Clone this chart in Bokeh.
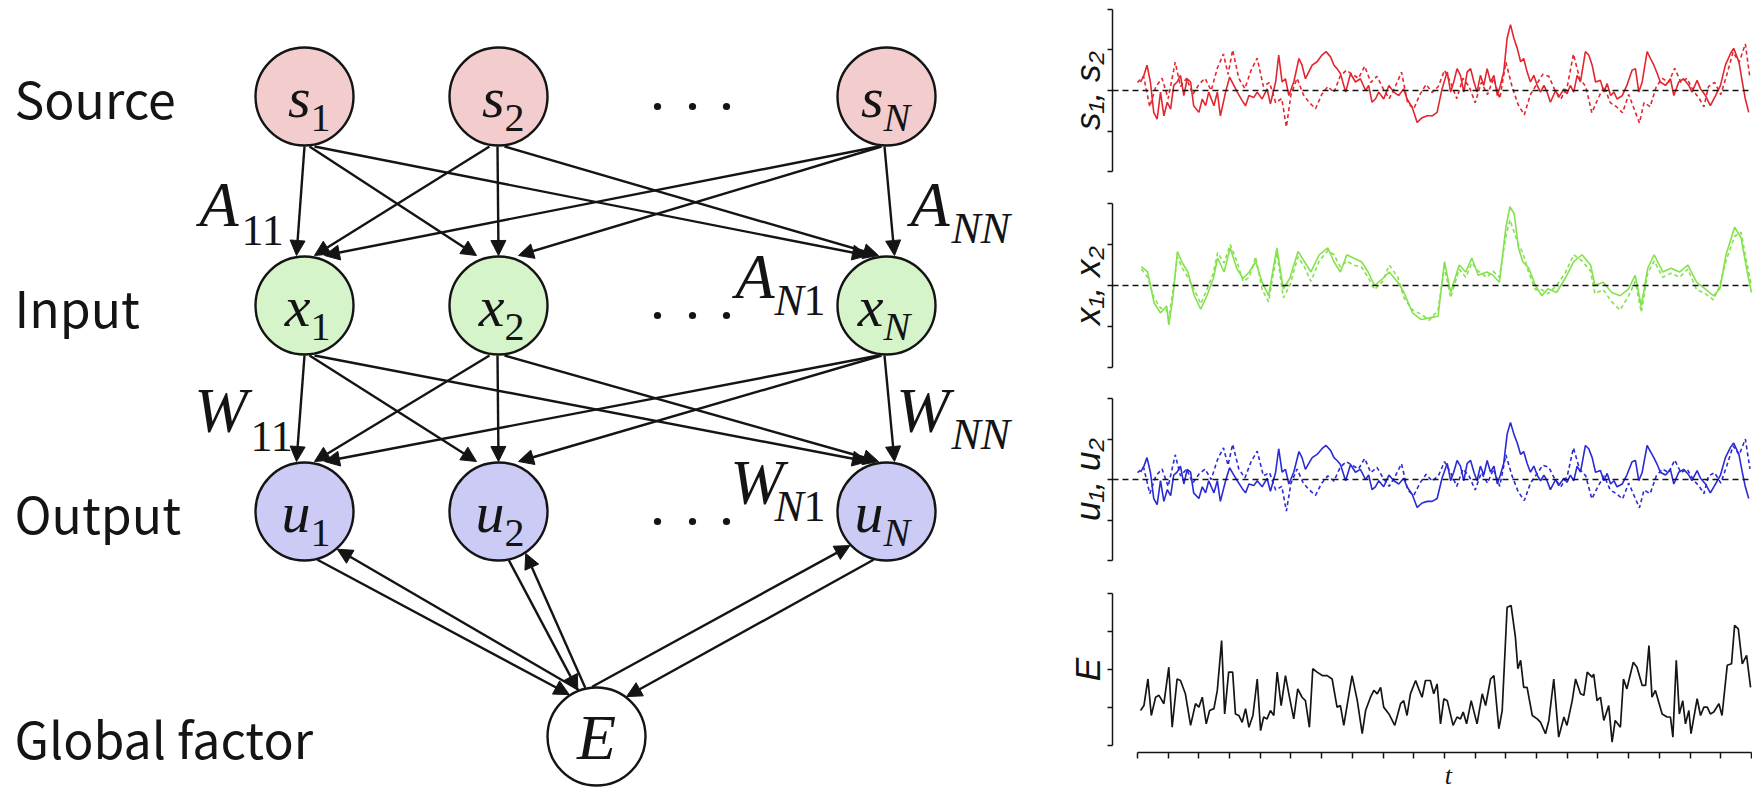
import math
from bokeh.plotting import figure
from bokeh.models import Range1d, Arrow, NormalHead, ColumnDataSource, Span, FixedTicker
from bokeh.layouts import row, column
from bokeh.core.properties import value
from bokeh.embed import file_html
from bokeh.resources import INLINE

# ---------------- time-series data ----------------
s1_t = [1.0,2.1,3.1,4.2,5.3,6.4,7.5,8.6,9.7,10.8,
        11.8,12.9,14.0,15.1,16.2,17.3,18.3,20.0,21.1,22.2,
        23.2,24.9,26.0,27.0,28.7,30.0,31.4,32.5,34.1,35.2,
        36.3,37.9,39.0,40.6,42.2,43.3,45.0,46.0,47.1,48.2,
        49.3,50.9,52.6,53.6,54.7,55.8,56.9,58.5,60.1,61.4,
        62.9,64.0,65.0,66.1,67.8,69.4,71.0,72.6,74.3,75.3,
        76.4,77.5,78.6,80.2,81.9,83.5,85.1,86.7,87.8,89.5,
        91.1,92.7,94.4,96.0,97.6,99.2,100.9,102.0,103.0,104.1,
        105.2,106.3,107.4,108.5,109.6,110.6,111.7,112.8,113.9,115.0,
        116.1,117.2,118.2,119.3,120.4,121.5,122.6,123.7,124.8,125.8,
        126.9,128.0,129.1,130.2,131.3,132.4,133.4,134.5,136.2,137.2,
        138.9,139.9,141.0,142.1,143.2,144.3,145.9,147.0,148.1,149.2,
        150.8,151.9,153.0,154.1,155.2,156.2,157.9,159.4,161.1,162.2,
        163.3,164.4,166.0,167.1,168.2,169.3,170.3,172.0,173.6,174.7,
        176.3,177.9,179.6,180.6,182.3,183.4,185.0,186.6,188.3,189.9,
        191.5,193.2,194.2,195.9,197.0,198.0,199.1]
s1_v = [0.21,0.375,0.625,0.21,-0.54,-0.71,-0.04,-0.625,-0.29,-0.46,
        0.125,0.21,0.375,-0.125,0.29,0.21,-0.375,-0.54,-0.21,-0.375,
        -0.04,-0.375,-0.04,-0.625,-0.04,0.33,0.125,-0.04,-0.25,-0.375,
        -0.125,-0.17,-0.04,-0.21,0.04,-0.33,0.21,0.875,0.21,0.29,
        -0.125,0.21,0.79,0.625,0.29,0.46,0.625,0.71,0.875,0.96,
        0.83,0.625,0.54,0.42,-0.04,0.42,0.21,0.29,0.0,0.125,
        -0.29,-0.21,-0.04,-0.21,0.125,-0.04,-0.125,0.04,-0.21,-0.42,
        -0.79,-0.67,-0.625,-0.625,-0.54,0.04,0.46,-0.04,0.21,0.54,
        0.375,-0.04,0.46,0.54,0.21,-0.04,0.375,0.125,0.54,0.21,
        0.375,-0.125,0.125,0.46,1.29,1.625,1.29,1.04,0.71,0.79,
        0.46,0.21,0.375,0.125,-0.04,0.125,-0.04,-0.29,0.0,-0.17,
        0.04,-0.08,0.125,-0.04,0.375,0.21,0.96,0.875,0.625,0.21,
        0.25,-0.04,0.17,-0.125,-0.04,-0.21,-0.125,0.125,0.5,0.54,
        -0.04,0.21,0.96,0.79,0.625,0.42,0.21,0.125,0.29,-0.125,
        0.21,0.29,0.125,-0.04,0.25,0.04,-0.125,-0.375,-0.125,0.125,
        0.625,0.92,1.04,0.71,0.21,-0.21,-0.54]

s2_t = [0,2,4,6,8,10,12.3,14,16,18,20,22,24,26,28,29.5,31,33,35,37,39,41,43,45,47,
        48.5,50,52,54,56,58,60,62,64,66,68,70,72,74,76,78,80,82,84,86,88,90,92,94,96,
        98,100,102,104,106,108,110,112,114,116,118,120,122,124,126,128,130,132,134,136,
        138,140,142,144,146,148,150,152,154,156,158,160,162,163.5,165,167,169,171,173,175,
        177,179,181,183,184.5,186,188,190,192,194,196,198,199.5]
s2_v = [0.2,0.35,-0.4,0.1,0.3,-0.2,0.7,0.1,0.3,-0.1,0.15,0.3,0.0,0.55,0.9,
        0.4,1.0,0.3,0.05,0.5,0.8,0.1,0.2,-0.3,-0.2,
        -0.9,-0.1,0.3,-0.1,-0.3,-0.45,-0.1,0.1,-0.05,0.35,
        0.5,0.4,0.3,0.6,0.2,0.35,0.05,-0.2,0.1,0.45,
        -0.3,-0.45,-0.1,0.15,-0.05,0.1,0.5,0.2,-0.2,0.3,
        0.1,-0.3,0.2,-0.1,0.3,-0.2,0.7,0.1,-0.35,-0.6,
        -0.1,0.15,0.4,0.35,0.0,-0.2,0.1,0.9,0.3,0.1,
        -0.55,-0.2,0.1,-0.3,-0.4,-0.55,-0.1,-0.5,-0.8,-0.3,
        -0.4,0.1,0.3,0.2,0.55,0.2,0.3,0.0,-0.2,-0.4,
        0.1,0.2,-0.1,0.4,0.95,0.7,1.15,0.3]

x1_t = [1.25,3.3,5.4,7.5,9.5,10.2,11.6,13.0,14.4,16.4,
        18.5,20.6,22.6,24.7,26.1,28.2,30.2,32.3,34.4,36.4,
        38.5,40.6,42.7,45.4,47.5,49.6,52.3,54.4,56.5,59.2,
        62.0,64.0,66.1,68.2,70.3,73.0,75.1,77.2,79.9,82.0,
        84.8,86.8,89.6,92.4,95.1,97.9,100.0,102.0,104.8,106.9,
        108.9,111.0,113.8,115.8,117.9,120.0,121.3,122.7,124.1,125.5,
        127.5,129.6,131.7,133.7,136.5,139.3,142.1,144.8,147.6,149.0,
        151.7,154.5,157.2,160.0,162.1,164.1,166.2,168.3,171.1,173.8,
        176.6,179.3,182.1,184.9,187.6,189.7,191.7,194.5,196.6,198.6,
        200.0]
x1_v = [0.46,0.33,-0.42,-0.67,-0.5,-0.96,-0.25,0.83,0.58,0.33,
        -0.25,-0.58,-0.25,0.17,0.67,0.33,0.92,0.42,0.17,0.33,
        0.58,0.08,-0.25,0.92,-0.08,0.17,0.83,0.58,0.33,0.75,
        0.92,0.58,0.33,0.75,0.67,0.58,0.33,0.0,0.17,0.33,
        0.08,-0.17,-0.67,-0.83,-0.79,-0.75,0.58,-0.17,0.5,0.33,
        0.67,0.25,0.33,0.25,0.08,1.42,1.92,1.75,0.92,0.58,
        0.42,0.0,-0.25,-0.08,-0.17,0.17,0.58,0.75,0.5,0.0,
        0.08,-0.17,-0.25,-0.08,0.25,-0.5,0.42,0.75,0.33,0.42,
        0.33,0.5,0.08,-0.08,-0.25,-0.08,0.75,1.42,1.17,0.33,
        -0.17]
x2_v = [0.4,0.2,-0.3,-0.55,-0.6,-0.8,-0.1,0.7,0.45,0.2,
        -0.1,-0.45,-0.1,0.3,0.8,0.55,1.0,0.6,0.1,0.2,
        0.7,-0.1,-0.4,0.8,-0.3,0.0,0.7,0.45,0.1,0.6,
        0.85,0.75,0.45,0.6,0.5,0.45,0.2,-0.1,0.1,0.5,
        0.2,-0.3,-0.6,-0.7,-0.85,-0.6,0.45,-0.3,0.4,0.2,
        0.55,0.35,0.2,0.35,0.2,1.2,1.6,1.3,1.0,0.8,
        0.3,-0.1,-0.1,-0.2,0.0,0.3,0.75,0.6,0.35,-0.2,
        -0.1,-0.4,-0.6,-0.25,0.1,-0.65,0.3,0.6,0.2,0.3,
        0.2,0.4,-0.1,-0.2,-0.35,0.0,0.6,1.2,1.3,0.5,
        0.0]

u1_v = [0.18,0.33,0.54,0.18,-0.47,-0.62,-0.03,-0.54,-0.25,-0.40,
        0.11,0.18,0.33,-0.11,0.25,0.18,-0.33,-0.47,-0.18,-0.33,
        -0.03,-0.33,-0.03,-0.54,-0.03,0.29,0.11,-0.03,-0.22,-0.33,
        -0.11,-0.15,-0.03,-0.18,0.03,-0.29,0.18,0.76,0.18,0.25,
        -0.11,0.18,0.69,0.54,0.25,0.40,0.54,0.62,0.76,0.84,
        0.72,0.54,0.47,0.37,-0.03,0.37,0.18,0.25,0.0,0.11,
        -0.25,-0.18,-0.03,-0.18,0.11,-0.03,-0.11,0.03,-0.18,-0.37,
        -0.69,-0.58,-0.54,-0.54,-0.47,0.03,0.40,-0.03,0.18,0.47,
        0.33,-0.03,0.40,0.47,0.18,-0.03,0.33,0.11,0.47,0.18,
        0.33,-0.11,0.11,0.40,1.12,1.41,1.12,0.90,0.62,0.69,
        0.40,0.18,0.33,0.11,-0.03,0.11,-0.03,-0.25,0.0,-0.15,
        0.03,-0.07,0.11,-0.03,0.33,0.18,0.84,0.76,0.54,0.18,
        0.22,-0.03,0.15,-0.11,-0.03,-0.18,-0.11,0.11,0.44,0.47,
        -0.03,0.18,0.84,0.69,0.54,0.37,0.18,0.11,0.25,-0.11,
        0.18,0.25,0.11,-0.03,0.22,0.03,-0.11,-0.33,-0.11,0.11,
        0.54,0.80,0.90,0.62,0.18,-0.18,-0.47]
u2_v = [0.17,0.30,-0.35,0.09,0.26,-0.17,0.61,0.09,0.26,-0.09,0.13,0.26,0.0,0.48,0.78,
        0.35,0.87,0.26,0.04,0.44,0.70,0.09,0.17,-0.26,-0.17,
        -0.78,-0.09,0.26,-0.09,-0.26,-0.39,-0.09,0.09,-0.04,0.30,
        0.44,0.35,0.26,0.52,0.17,0.30,0.04,-0.17,0.09,0.39,
        -0.26,-0.39,-0.09,0.13,-0.04,0.09,0.44,0.17,-0.17,0.26,
        0.09,-0.26,0.17,-0.09,0.26,-0.17,0.61,0.09,-0.30,-0.52,
        -0.09,0.13,0.35,0.30,0.0,-0.17,0.09,0.78,0.26,0.09,
        -0.48,-0.17,0.09,-0.26,-0.35,-0.48,-0.09,-0.44,-0.70,-0.26,
        -0.35,0.09,0.26,0.17,0.48,0.17,0.26,0.0,-0.17,-0.35,
        0.09,0.17,-0.09,0.35,0.83,0.61,1.00,0.26]

E_t = [1.0,2.1,3.4,4.5,5.9,7.0,8.6,10.2,11.3,12.9,
       14.0,15.6,17.3,18.9,20.0,21.1,22.4,23.5,24.9,26.0,
       27.4,28.4,29.7,31.0,31.9,33.0,34.1,35.2,36.3,37.6,
       39.0,40.1,41.1,42.2,43.3,44.4,45.5,46.8,48.2,49.3,
       50.9,52.2,53.6,54.7,56.0,57.1,58.5,60.2,61.8,63.4,
       65.0,66.1,67.2,69.9,71.6,73.2,74.3,75.9,77.0,78.1,
       79.2,80.2,81.9,83.8,85.7,86.7,87.8,88.9,90.6,91.6,
       92.7,93.8,95.4,96.5,97.6,98.7,99.8,
       100.9,102.8,104.1,105.2,106.1,107.2,108.7,110.6,112.3,113.4,
       115.0,116.1,117.7,118.8,120.4,121.7,123.1,123.9,124.8,125.8,
       126.9,128.6,130.2,131.3,132.9,134.0,135.6,137.2,138.9,139.9,
       141.6,142.7,144.3,145.4,146.5,148.1,148.6,149.7,150.8,151.9,
       153.5,154.6,155.6,157.3,158.3,159.4,161.5,162.7,164.4,165.5,
       166.6,167.6,168.7,170.9,172.5,173.6,174.4,175.5,176.5,177.6,
       178.5,179.6,180.3,182.3,183.4,184.5,185.6,186.6,187.7,189.4,
       190.4,192.1,193.5,194.5,195.7,197.0,198.4,199.7]
E_v = [0.92,1.05,1.75,0.79,1.27,1.32,1.10,2.06,0.48,1.75,
       1.71,1.36,0.53,1.10,1.01,1.27,0.57,0.92,0.97,1.45,
       2.76,0.83,1.93,1.93,0.83,0.79,0.61,0.97,0.48,0.79,
       1.75,0.39,0.75,0.70,0.92,0.79,1.93,1.05,1.84,1.36,
       0.70,1.49,1.27,1.18,0.48,2.02,1.93,1.84,1.84,1.75,
       1.01,1.05,0.53,1.84,1.18,0.31,0.92,1.27,1.45,1.36,
       1.53,1.01,0.83,0.53,1.10,1.18,0.79,1.36,1.71,1.49,
       1.27,1.71,1.71,1.36,1.62,0.57,1.23,
       1.18,0.53,0.75,0.70,0.88,0.57,1.18,0.57,1.36,1.05,
       1.75,1.84,0.44,0.92,3.64,3.68,2.85,2.02,2.24,1.53,
       1.53,0.79,0.70,0.61,0.31,0.66,1.75,0.22,0.75,0.53,
       1.18,1.75,1.36,1.32,1.93,1.80,1.88,1.18,1.27,0.66,
       1.05,0.09,0.66,0.48,1.75,1.49,2.19,2.06,1.58,1.58,
       2.63,1.27,1.45,0.83,0.75,0.75,0.22,2.24,0.83,1.18,
       0.57,0.92,0.31,1.23,0.79,1.01,1.01,0.83,0.88,1.10,
       0.79,2.11,2.15,3.16,3.07,2.15,2.37,1.53]

t_ticks = list(range(0, 201, 10))
sig_ticks = [-2, -1, 0, 1, 2]
E_ticks = [0, 1, 2, 3, 4]
panel_labels = ["s\u2081, s\u2082", "x\u2081, x\u2082", "u\u2081, u\u2082", "E"]
time_label = "t"

# ---------------- diagram content ----------------
row_labels = ["Source", "Input", "Output", "Global factor"]
layer_letters = ["s", "x", "u"]
node_subs = ["1", "2", "N"]

# ---------------- styling / layout (page pixels) ----------------
RED, GREEN, BLUE, BLACK = "#e3262e", "#84e24c", "#2a2ad6", "#151515"
FILLS = ["#f3cdcd", "#d5f4c9", "#cbcbf6"]
INK = "#141414"
SERIF = "Liberation Serif"
SANS = "Noto Sans CJK JP"
TOTAL_H = 790
LEFT_W = 1107
RIGHT_W = 645

col_x = [304, 498, 886]
row_y = [96, 305, 511]
E_xy = (596, 736)
R = 49
panel_centres = [90, 285, 479, 669]

L = figure(width=LEFT_W, height=TOTAL_H, x_range=Range1d(0, LEFT_W), y_range=Range1d(TOTAL_H, 0),
           output_backend="svg", toolbar_location=None,
           x_axis_location=None, y_axis_location=None, min_border=0)
L.outline_line_color = None
L.xgrid.visible = False
L.ygrid.visible = False

# arrows between layers (source i -> target j)
S_off = [[0, 5, 10], [-9, -1, 6], [-8, -5, -2]]
T_off = [[-8, -22, -19], [10, 0, -8], [20, 20, 8]]
ax0, ay0, ax1, ay1 = [], [], [], []
for layer in range(2):
    for i in range(3):
        for j in range(3):
            ax0.append(col_x[i] + S_off[i][j]); ay0.append(row_y[layer] + R + 1)
            ax1.append(col_x[j] + T_off[i][j]); ay1.append(row_y[layer + 1] - R - 1)

def on_circle(cx, cy, ang):
    a = math.radians(ang)
    return cx + (R + 1) * math.cos(a), cy + (R + 1) * math.sin(a)

fb = [(("u", 0), 75, ("E",), 237), (("E",), 249, ("u", 0), 49),
      (("u", 1), 78, ("E",), 248), (("E",), 257, ("u", 1), 57),
      (("E",), 265, ("u", 2), 137), (("u", 2), 105, ("E",), 307)]
def centre(n):
    return E_xy if n[0] == "E" else (col_x[n[1]], row_y[2])
for a, aa, b, ba in fb:
    x0, y0 = on_circle(*centre(a), aa)
    x1, y1 = on_circle(*centre(b), ba)
    ax0.append(x0); ay0.append(y0); ax1.append(x1); ay1.append(y1)

arr_src = ColumnDataSource(dict(x0=ax0, y0=ay0, x1=ax1, y1=ay1))
L.add_layout(Arrow(x_start="x0", y_start="y0", x_end="x1", y_end="y1", source=arr_src,
                   line_width=2.4, line_color=INK,
                   end=NormalHead(size=15, line_color=INK, fill_color=INK, line_width=1)))

# nodes
for k in range(3):
    L.circle(x=col_x, y=[row_y[k]] * 3, radius=R, fill_color=FILLS[k],
             line_color=INK, line_width=2.4, level="overlay")
L.circle(x=[E_xy[0]], y=[E_xy[1]], radius=R, fill_color="white", line_color=INK,
         line_width=2.4, level="overlay")

def txt(fig, xs, ys, ts, font, size, style="normal", align="left", **kw):
    fig.text(x=xs, y=ys, text=ts, text_font=value(font), text_font_style=style,
             text_font_size=size, text_align=align, text_baseline="middle",
             text_color=INK, **kw)

# node letters (vertical centres of the text boxes)
bx, by, bt, dx, dy, dt, nx, ny = [], [], [], [], [], [], [], []
for k in range(3):
    for c in range(3):
        j = -3 if node_subs[c] == "N" else 6
        bx.append(col_x[c] + j); by.append(row_y[k] + 1); bt.append(layer_letters[k])
        if node_subs[c] == "N":
            nx.append(col_x[c] + j); ny.append(row_y[k] + 21)
        else:
            dx.append(col_x[c] + j); dy.append(row_y[k] + 21); dt.append(node_subs[c])
txt(L, bx, by, bt, SERIF, "58px", "italic", "right", level="overlay")
txt(L, dx, dy, dt, SERIF, "40px", "normal", "left", level="overlay")
txt(L, nx, ny, ["N"] * len(nx), SERIF, "40px", "italic", "left", level="overlay")
txt(L, [E_xy[0]], [E_xy[1] + 1], ["E"], SERIF, "64px", "italic", "center", level="overlay")

# weight labels A_ij / W_ij (positioned relative to the row they point into)
big_x, big_y, big_t = [], [], []
sub_x, sub_y, sub_t, sub_i = [], [], [], []
for layer, letter in enumerate(["A", "W"]):
    ty = row_y[layer + 1]
    wid = 0 if letter == "A" else 9
    big_x += [238 + wid, 949, 774 + wid]
    big_y += [ty - 101, ty - 101, ty - 29]
    big_t += [letter] * 3
    sub_x += [241 + wid, 951, 774, 803]
    sub_y += [ty - 75, ty - 77, ty - 5, ty - 5]
    sub_t += ["11", "NN", "N", "1"]
    sub_i += [False, True, True, False]
txt(L, big_x, big_y, big_t, SERIF, "64px", "italic", "right")
txt(L, [v for v, it in zip(sub_x, sub_i) if not it], [v for v, it in zip(sub_y, sub_i) if not it],
    [v for v, it in zip(sub_t, sub_i) if not it], SERIF, "44px", "normal", "left")
txt(L, [v for v, it in zip(sub_x, sub_i) if it], [v for v, it in zip(sub_y, sub_i) if it],
    [v for v, it in zip(sub_t, sub_i) if it], SERIF, "44px", "italic", "left")

# ellipsis dots
dots_x = [657, 692, 726]
L.circle(x=dots_x * 3, y=[r + 10 for r in row_y for _ in range(3)],
         radius=3.6, fill_color=INK, line_color=None)

# row labels
txt(L, [14] * 4, [row_y[0], row_y[1], row_y[2], E_xy[1]], row_labels, SANS, "50px")

# rotated y labels of the right-hand panels (drawn in the margin column)
txt(L, [1087] * 4, panel_centres, panel_labels, "Liberation Sans", "35px", "italic", "center",
    angle=math.pi / 2)

# ---------------- time-series panels ----------------
xr = Range1d(-8.14, 200.33)

def style_axis(ax, ticks, tick_len):
    ax.ticker = FixedTicker(ticks=ticks)
    ax.bounds = (ticks[0], ticks[-1])
    ax.major_tick_in = 0
    ax.major_tick_out = tick_len
    ax.minor_tick_line_color = None
    ax.major_label_overrides = {t: "" for t in ticks}
    ax.major_label_text_color = None
    ax.major_label_standoff = 0
    ax.axis_line_width = 1.5
    ax.axis_line_color = INK
    ax.major_tick_line_color = INK
    ax.major_tick_line_width = 1.5

def panel(h, y0, y1, ticks, bottom=0):
    p = figure(width=RIGHT_W, height=h, x_range=xr, y_range=Range1d(y0, y1),
               output_backend="svg", toolbar_location=None,
               x_axis_location="below" if bottom else None,
               min_border_left=5, min_border_right=0, min_border_top=0,
               min_border_bottom=bottom)
    p.outline_line_color = None
    p.xgrid.visible = False
    p.ygrid.visible = False
    style_axis(p.yaxis[0], ticks, 5)
    return p

p1 = panel(190, -2.469, 2.222, sig_ticks)
p2 = panel(187, -2.244, 2.317, sig_ticks)
p3 = panel(193, -2.247, 2.519, sig_ticks)
p4 = panel(190, -0.184, 4.605, E_ticks, bottom=8)

for p, col, a_t, a_v, b_t, b_v in [(p1, RED, s1_t, s1_v, s2_t, s2_v),
                                   (p2, GREEN, x1_t, x1_v, x1_t, x2_v),
                                   (p3, BLUE, s1_t, u1_v, s2_t, u2_v)]:
    p.line(b_t, b_v, line_color=col, line_width=1.6, line_dash="4 3")
    p.line(a_t, a_v, line_color=col, line_width=1.6)
    p.add_layout(Span(location=0, dimension="width", line_color=INK,
                      line_dash="6 4", line_width=1.5))
p4.line(E_t, E_v, line_color=BLACK, line_width=1.7)
style_axis(p4.xaxis[0], t_ticks, 6)

# strip under the last panel carrying the time label
p5 = figure(width=RIGHT_W, height=TOTAL_H - 760, x_range=xr, y_range=Range1d(TOTAL_H, 760),
            output_backend="svg", toolbar_location=None, x_axis_location=None,
            y_axis_location=None, min_border=0, min_border_left=5)
p5.outline_line_color = None
p5.xgrid.visible = False
p5.ygrid.visible = False
txt(p5, [101.3], [775], [time_label], SERIF, "26px", "italic", "center")

layout = row(L, column(p1, p2, p3, p4, p5))
open("out.html", "w").write(file_html(layout, INLINE))
